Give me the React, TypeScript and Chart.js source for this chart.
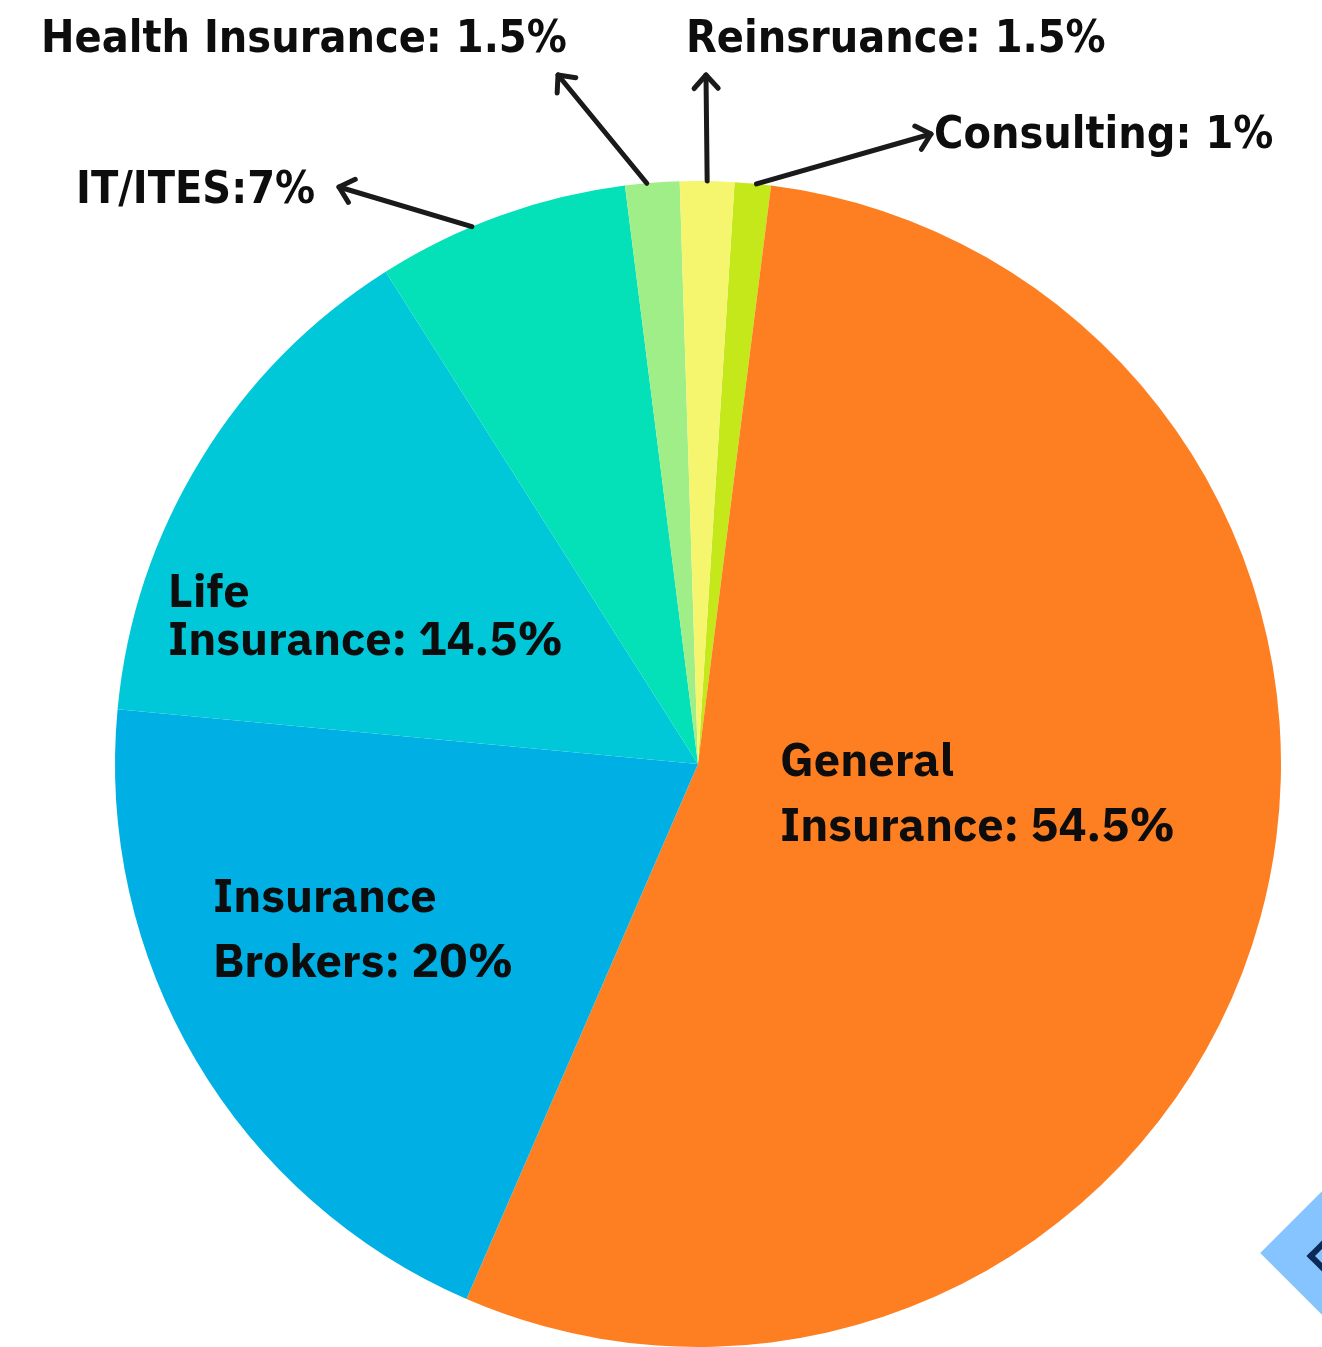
import React, { useEffect, useRef } from "react";
import { Chart, registerables } from "chart.js";

Chart.register(...registerables);

// ---- data ----
const categories = [
  "Consulting",
  "General Insurance",
  "Insurance Brokers",
  "Life Insurance",
  "IT/ITES",
  "Health Insurance",
  "Reinsruance",
];
const shares = [1, 54.5, 20, 14.5, 7, 1.5, 1.5];
const sliceColors = ["#c5e81a", "#fd7f22", "#00b0e4", "#00c8d8", "#04e0b7", "#a0ee88", "#f5f56e"];

// inside labels (lines of text), keyed by slice index
const insideLabelLines: string[][] = [
  [],
  ["General", "Insurance: 54.5%"],
  ["Insurance", "Brokers: 20%"],
  ["Life", "Insurance: 14.5%"],
  [],
  [],
  [],
];
// outside labels (with arrows), keyed by slice index
const outsideLabelText: string[] = [
  "Consulting: 1%",
  "",
  "",
  "",
  "IT/ITES:7%",
  "Health Insurance: 1.5%",
  "Reinsruance: 1.5%",
];

// ---- layout (relative to pie centre) ----
const insideLayout: Record<number, { dx: number; dy: number; lh: number }> = {
  1: { dx: 82, dy: 12, lh: 65 },
  2: { dx: -485, dy: 148, lh: 65 },
  3: { dx: -530, dy: -157, lh: 48 },
};
const outsideLayout: Record<
  number,
  { frac: number; tipDx: number; tipDy: number; textDx: number; textDy: number }
> = {
  0: { frac: 0.6, tipDx: 233, tipDy: -630, textDx: 236, textDy: -616 },
  4: { frac: 0.38, tipDx: -359, tipDy: -577, textDx: -622, textDy: -561 },
  5: { frac: 0.4, tipDx: -140, tipDy: -689, textDx: -657, textDy: -712 },
  6: { frac: 0.5, tipDx: 8, tipDy: -689, textDx: -12, textDy: -712 },
};

const INSIDE_FONT = 'bold 47px "IBM Plex Sans", Roboto, "Noto Sans", sans-serif';
const OUTSIDE_FONT = 'bold 44.5px "Liberation Sans Narrow", "DejaVu Sans Condensed", "Roboto Condensed", sans-serif';
const INK = "#0d0d0d";

const labelPlugin = {
  id: "sliceLabels",
  afterDraw(chart: any) {
    const ctx: CanvasRenderingContext2D = chart.ctx;
    const meta = chart.getDatasetMeta(0);
    const arcs = meta.data;
    if (!arcs.length) return;
    const cx = arcs[0].x;
    const cy = arcs[0].y;
    ctx.save();
    ctx.fillStyle = INK;
    ctx.textBaseline = "alphabetic";
    ctx.textAlign = "left";

    // inside labels
    ctx.font = INSIDE_FONT;
    Object.keys(insideLayout).forEach((k) => {
      const i = Number(k);
      const L = insideLayout[i];
      insideLabelLines[i].forEach((line, j) => {
        ctx.fillText(line, cx + L.dx, cy + L.dy + j * L.lh);
      });
    });

    // outside labels with arrows
    ctx.strokeStyle = "#1a1a1a";
    ctx.lineWidth = 5;
    ctx.lineCap = "round";
    ctx.lineJoin = "round";
    Object.keys(outsideLayout).forEach((k) => {
      const i = Number(k);
      const L = outsideLayout[i];
      const arc = arcs[i];
      const p = arc.getProps(["startAngle", "endAngle", "outerRadius"], true);
      const a = p.startAngle + (p.endAngle - p.startAngle) * L.frac;
      const sx = cx + p.outerRadius * Math.cos(a);
      const sy = cy + p.outerRadius * Math.sin(a);
      const tx = cx + L.tipDx;
      const ty = cy + L.tipDy;
      ctx.beginPath();
      ctx.moveTo(sx, sy);
      ctx.lineTo(tx, ty);
      ctx.stroke();
      const ang = Math.atan2(ty - sy, tx - sx);
      const head = 18;
      const spread = (42 * Math.PI) / 180;
      ctx.beginPath();
      ctx.moveTo(tx - head * Math.cos(ang - spread), ty - head * Math.sin(ang - spread));
      ctx.lineTo(tx, ty);
      ctx.lineTo(tx - head * Math.cos(ang + spread), ty - head * Math.sin(ang + spread));
      ctx.stroke();

      ctx.font = OUTSIDE_FONT;
      ctx.fillText(outsideLabelText[i], cx + L.textDx, cy + L.textDy);
    });
    ctx.restore();
  },
};

export default function App() {
  const ref = useRef<HTMLCanvasElement | null>(null);

  useEffect(() => {
    document.body.style.margin = "0";
    const canvas = ref.current;
    if (!canvas) return;
    const chart = new Chart(canvas, {
      type: "pie",
      data: {
        labels: categories,
        datasets: [
          {
            data: shares,
            backgroundColor: sliceColors,
            borderWidth: 0,
          },
        ],
      },
      options: {
        responsive: false,
        animation: false,
        rotation: 3.6,
        layout: { padding: { left: 112, right: 38, top: 181, bottom: -4 } },
        plugins: {
          legend: { display: false },
          tooltip: { enabled: false },
          title: { display: false },
        },
      },
      plugins: [labelPlugin],
    });
    return () => chart.destroy();
  }, []);

  return (
    <div
      style={{
        position: "absolute",
        left: 0,
        top: 0,
        width: 1322,
        height: 1347,
        overflow: "hidden",
        background: "#ffffff",
      }}
    >
      <canvas ref={ref} width={1322} height={1347} style={{ display: "block" }} />
      <div
        style={{
          position: "absolute",
          left: 1288,
          top: 1186,
          width: 134,
          height: 134,
          background: "#85c4ff",
          transform: "rotate(45deg)",
        }}
      />
      <div
        style={{
          position: "absolute",
          left: 1312,
          top: 1243,
          width: 20,
          height: 20,
          borderLeft: "6px solid #0b2a55",
          borderBottom: "6px solid #0b2a55",
          transform: "rotate(45deg)",
        }}
      />
    </div>
  );
}
